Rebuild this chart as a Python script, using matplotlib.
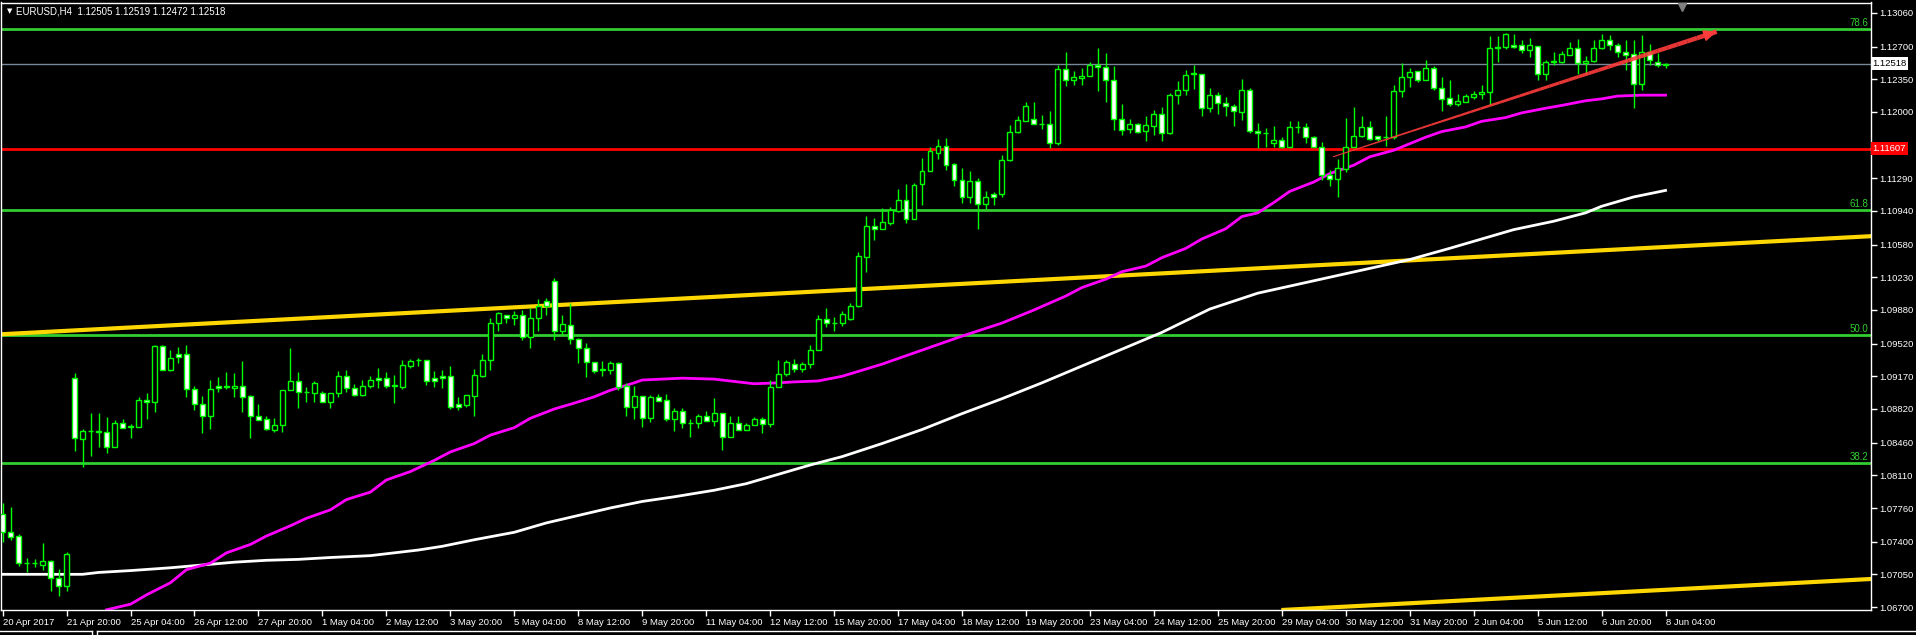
import numpy as np
import matplotlib
matplotlib.use("Agg")
import matplotlib.pyplot as plt
from matplotlib.collections import LineCollection

# EURUSD H4 candles, 20 Apr 2017 12:00 .. 8 Jun 2017 04:00
opens = [1.0770, 1.0750, 1.0746, 1.0717, 1.0717, 1.0715, 1.0719, 1.0701, 1.0692, 1.0915,
         1.0850, 1.0858, 1.0857, 1.0857, 1.0841, 1.0867, 1.0863, 1.0863, 1.0892, 1.0889,
         1.0949, 1.0924, 1.0941, 1.0941, 1.0903, 1.0887, 1.0875, 1.0907, 1.0906, 1.0905,
         1.0907, 1.0896, 1.0875, 1.0871, 1.0860, 1.0865, 1.0902, 1.0912, 1.0900, 1.0899,
         1.0899, 1.0890, 1.0899, 1.0917, 1.0904, 1.0897, 1.0907, 1.0915, 1.0915, 1.0907,
         1.0906, 1.0928, 1.0934, 1.0934, 1.0915, 1.0917, 1.0917, 1.0887, 1.0886, 1.0896,
         1.0917, 1.0934, 1.0974, 1.0983, 1.0979, 1.0983, 1.0959, 1.0979, 1.0998, 1.1019,
         1.0966, 1.0972, 1.0957, 1.0947, 1.0932, 1.0924, 1.0924, 1.0931, 1.0907, 1.0884,
         1.0896, 1.0872, 1.0895, 1.0892, 1.0871, 1.0880, 1.0867, 1.0867, 1.0875, 1.0869,
         1.0878, 1.0852, 1.0867, 1.0860, 1.0865, 1.0871, 1.0866, 1.0906, 1.0919, 1.0930,
         1.0925, 1.0930, 1.0945, 1.0978, 1.0974, 1.0974, 1.0978, 1.0992, 1.1045, 1.1078,
         1.1075, 1.1081, 1.1094, 1.1106, 1.1085, 1.1123, 1.1137, 1.1156, 1.1164, 1.1144,
         1.1127, 1.1109, 1.1126, 1.1101, 1.1112, 1.1112, 1.1149, 1.1179, 1.1190, 1.1192,
         1.1187, 1.1187, 1.1167, 1.1246, 1.1234, 1.1236, 1.1239, 1.1250, 1.1248, 1.1234,
         1.1192, 1.1182, 1.1187, 1.1180, 1.1185, 1.1198, 1.1177, 1.1218, 1.1223, 1.1241,
         1.1241, 1.1204, 1.1218, 1.1210, 1.1206, 1.1200, 1.1224, 1.1180, 1.1177, 1.1167,
         1.1170, 1.1163, 1.1184, 1.1184, 1.1173, 1.1162, 1.1133, 1.1128, 1.1139, 1.1162,
         1.1174, 1.1184, 1.1174, 1.1173, 1.1173, 1.1222, 1.1237, 1.1244, 1.1234, 1.1247,
         1.1226, 1.1215, 1.1209, 1.1211, 1.1216, 1.1219, 1.1221, 1.1269, 1.1270, 1.1272,
         1.1272, 1.1266, 1.1271, 1.1241, 1.1254, 1.1254, 1.1261, 1.1269, 1.1252, 1.1255,
         1.1269, 1.1277, 1.1272, 1.1264, 1.1262, 1.1230, 1.1264, 1.1254, 1.12505]
highs = [1.0781, 1.0777, 1.0748, 1.0722, 1.0721, 1.0739, 1.0720, 1.0711, 1.0729, 1.0921,
         1.0861, 1.0878, 1.0878, 1.0873, 1.0870, 1.0871, 1.0866, 1.0895, 1.0899, 1.0950,
         1.0950, 1.0945, 1.0948, 1.0950, 1.0907, 1.0896, 1.0913, 1.0916, 1.0922, 1.0921,
         1.0933, 1.0897, 1.0887, 1.0875, 1.0872, 1.0902, 1.0947, 1.0922, 1.0906, 1.0912,
         1.0901, 1.0899, 1.0923, 1.0924, 1.0909, 1.0913, 1.0917, 1.0926, 1.0922, 1.0918,
         1.0934, 1.0936, 1.0937, 1.0934, 1.0923, 1.0924, 1.0928, 1.0895, 1.0897, 1.0925,
         1.0941, 1.0979, 1.0986, 1.0983, 1.0987, 1.0988, 1.0990, 1.1000, 1.1001, 1.1022,
         1.0983, 1.0996, 1.0958, 1.0953, 1.0932, 1.0933, 1.0933, 1.0932, 1.0910, 1.0907,
         1.0896, 1.0897, 1.0898, 1.0898, 1.0883, 1.0883, 1.0871, 1.0877, 1.0880, 1.0894,
         1.0878, 1.0875, 1.0875, 1.0867, 1.0873, 1.0873, 1.0913, 1.0934, 1.0934, 1.0936,
         1.0932, 1.0950, 1.0983, 1.0990, 1.0981, 1.0987, 1.0995, 1.1050, 1.1089, 1.1087,
         1.1097, 1.1098, 1.1117, 1.1123, 1.1124, 1.1151, 1.1162, 1.1171, 1.1172, 1.1145,
         1.1140, 1.1137, 1.1129, 1.1115, 1.1114, 1.1154, 1.1186, 1.1196, 1.1211, 1.1211,
         1.1197, 1.1201, 1.1250, 1.1264, 1.1244, 1.1247, 1.1254, 1.1268, 1.1263, 1.1249,
         1.1209, 1.1192, 1.1188, 1.1196, 1.1202, 1.1205, 1.1220, 1.1233, 1.1245, 1.1250,
         1.1241, 1.1226, 1.1221, 1.1216, 1.1209, 1.1235, 1.1226, 1.1188, 1.1183, 1.1185,
         1.1173, 1.1190, 1.1190, 1.1188, 1.1174, 1.1168, 1.1138, 1.1150, 1.1194, 1.1205,
         1.1196, 1.1190, 1.1174, 1.1196, 1.1229, 1.1252, 1.1247, 1.1244, 1.1256, 1.1249,
         1.1237, 1.1234, 1.1219, 1.1219, 1.1222, 1.1229, 1.1281, 1.1281, 1.1285, 1.1284,
         1.1277, 1.1279, 1.1271, 1.1256, 1.1264, 1.1265, 1.1275, 1.1278, 1.1260, 1.1277,
         1.1284, 1.1282, 1.1274, 1.1277, 1.1277, 1.1282, 1.1273, 1.1263, 1.12519]
lows = [1.0740, 1.0742, 1.0714, 1.0707, 1.0713, 1.0710, 1.0687, 1.0682, 1.0687, 1.0837,
        1.0820, 1.0832, 1.0841, 1.0835, 1.0841, 1.0862, 1.0851, 1.0863, 1.0871, 1.0879,
        1.0924, 1.0923, 1.0931, 1.0895, 1.0881, 1.0856, 1.0861, 1.0900, 1.0903, 1.0895,
        1.0879, 1.0851, 1.0870, 1.0860, 1.0857, 1.0857, 1.0902, 1.0883, 1.0889, 1.0889,
        1.0889, 1.0883, 1.0895, 1.0900, 1.0896, 1.0896, 1.0905, 1.0905, 1.0904, 1.0888,
        1.0903, 1.0926, 1.0928, 1.0908, 1.0906, 1.0904, 1.0882, 1.0881, 1.0884, 1.0875,
        1.0916, 1.0924, 1.0966, 1.0974, 1.0972, 1.0956, 1.0947, 1.0965, 1.0983, 1.0956,
        1.0961, 1.0952, 1.0931, 1.0916, 1.0921, 1.0917, 1.0920, 1.0902, 1.0874, 1.0871,
        1.0863, 1.0868, 1.0891, 1.0869, 1.0858, 1.0862, 1.0852, 1.0862, 1.0869, 1.0864,
        1.0838, 1.0852, 1.0859, 1.0859, 1.0865, 1.0856, 1.0863, 1.0906, 1.0917, 1.0922,
        1.0922, 1.0926, 1.0945, 1.0970, 1.0966, 1.0971, 1.0977, 1.0991, 1.1029, 1.1063,
        1.1075, 1.1079, 1.1093, 1.1081, 1.1085, 1.1100, 1.1137, 1.1150, 1.1138, 1.1121,
        1.1103, 1.1103, 1.1075, 1.1096, 1.1100, 1.1109, 1.1147, 1.1178, 1.1190, 1.1187,
        1.1182, 1.1161, 1.1165, 1.1228, 1.1229, 1.1229, 1.1239, 1.1222, 1.1211, 1.1181,
        1.1175, 1.1177, 1.1178, 1.1169, 1.1175, 1.1169, 1.1176, 1.1209, 1.1218, 1.1225,
        1.1196, 1.1200, 1.1198, 1.1196, 1.1185, 1.1191, 1.1178, 1.1161, 1.1162, 1.1162,
        1.1161, 1.1163, 1.1177, 1.1167, 1.1162, 1.1127, 1.1121, 1.1109, 1.1136, 1.1162,
        1.1173, 1.1170, 1.1169, 1.1164, 1.1171, 1.1216, 1.1227, 1.1232, 1.1234, 1.1223,
        1.1201, 1.1206, 1.1206, 1.1211, 1.1214, 1.1214, 1.1207, 1.1254, 1.1267, 1.1269,
        1.1263, 1.1259, 1.1234, 1.1234, 1.1250, 1.1252, 1.1261, 1.1241, 1.1241, 1.1254,
        1.1267, 1.1266, 1.1259, 1.1245, 1.1204, 1.1223, 1.1250, 1.1248, 1.12472]
closes = [1.0750, 1.0745, 1.0717, 1.0717, 1.0717, 1.0719, 1.0701, 1.0692, 1.0727, 1.0851,
          1.0858, 1.0858, 1.0858, 1.0841, 1.0867, 1.0862, 1.0863, 1.0892, 1.0889, 1.0949,
          1.0924, 1.0937, 1.0938, 1.0903, 1.0887, 1.0875, 1.0903, 1.0904, 1.0906, 1.0907,
          1.0895, 1.0875, 1.0870, 1.0861, 1.0865, 1.0902, 1.0912, 1.0900, 1.0900, 1.0910,
          1.0890, 1.0899, 1.0917, 1.0904, 1.0897, 1.0907, 1.0913, 1.0913, 1.0907, 1.0907,
          1.0929, 1.0933, 1.0934, 1.0912, 1.0912, 1.0915, 1.0884, 1.0884, 1.0897, 1.0918,
          1.0934, 1.0974, 1.0985, 1.0979, 1.0983, 1.0959, 1.0979, 1.0992, 1.0992, 1.0966,
          1.0973, 1.0957, 1.0947, 1.0932, 1.0923, 1.0924, 1.0931, 1.0906, 1.0884, 1.0896,
          1.0872, 1.0895, 1.0891, 1.0871, 1.0880, 1.0867, 1.0867, 1.0875, 1.0869, 1.0878,
          1.0852, 1.0867, 1.0860, 1.0865, 1.0871, 1.0866, 1.0906, 1.0919, 1.0932, 1.0925,
          1.0930, 1.0945, 1.0978, 1.0974, 1.0974, 1.0984, 1.0992, 1.1046, 1.1078, 1.1075,
          1.1082, 1.1095, 1.1106, 1.1085, 1.1122, 1.1137, 1.1158, 1.1164, 1.1143, 1.1127,
          1.1109, 1.1126, 1.1101, 1.1109, 1.1109, 1.1149, 1.1179, 1.1191, 1.1206, 1.1187,
          1.1187, 1.1167, 1.1246, 1.1234, 1.1237, 1.1239, 1.1250, 1.1248, 1.1234, 1.1192,
          1.1181, 1.1187, 1.1179, 1.1186, 1.1198, 1.1177, 1.1218, 1.1223, 1.1240, 1.1241,
          1.1204, 1.1218, 1.1210, 1.1206, 1.1201, 1.1224, 1.1180, 1.1177, 1.1177, 1.1170,
          1.1162, 1.1184, 1.1184, 1.1173, 1.1162, 1.1133, 1.1128, 1.1140, 1.1162, 1.1174,
          1.1184, 1.1171, 1.1171, 1.1173, 1.1222, 1.1237, 1.1243, 1.1234, 1.1247, 1.1226,
          1.1214, 1.1209, 1.1212, 1.1217, 1.1219, 1.1221, 1.1269, 1.1269, 1.1283, 1.1270,
          1.1266, 1.1272, 1.1241, 1.1253, 1.1254, 1.1262, 1.1269, 1.1252, 1.1255, 1.1269,
          1.1277, 1.1272, 1.1264, 1.1261, 1.1230, 1.1264, 1.1256, 1.1250, 1.12518]

# moving averages, sampled at bar indices
ma_fast_bar = [13, 16, 18, 21, 23, 26, 28, 31, 33, 36, 38, 41, 43, 46, 48, 51, 54, 56, 59, 61,
               64, 66, 69, 71, 74, 76, 79, 80, 85, 89, 91, 94, 97, 99, 102, 105, 110, 115, 120,
               125, 129, 133, 135, 138, 140, 143, 145, 148, 150, 153, 155, 157, 159, 161, 164,
               166, 169, 171, 174, 176, 178, 180, 183, 185, 188, 190, 193, 195, 198, 200, 202,
               205, 208]
ma_fast = [1.0667, 1.0673, 1.0683, 1.0696, 1.0710, 1.0717, 1.0728, 1.0737, 1.0746, 1.0757,
           1.0765, 1.0774, 1.0785, 1.0793, 1.0806, 1.0815, 1.0827, 1.0836, 1.0845, 1.0854,
           1.0862, 1.0872, 1.0882, 1.0887, 1.0895, 1.0902, 1.0910, 1.0913, 1.0915, 1.0914,
           1.0912, 1.0909, 1.0910, 1.0911, 1.0912, 1.0917, 1.0930, 1.0945, 1.0960, 1.0974,
           1.0988, 1.1003, 1.1012, 1.1021, 1.1029, 1.1035, 1.1044, 1.1054, 1.1064, 1.1075,
           1.1088, 1.1092, 1.1103, 1.1115, 1.1125, 1.1134, 1.1143, 1.1152, 1.1159, 1.1166,
           1.1173, 1.1179, 1.1184, 1.1190, 1.1194, 1.1199, 1.1204, 1.1207, 1.1212, 1.1214,
           1.1217, 1.1218, 1.1218]
ma_slow_bar = [0, 4, 10, 12, 16, 21, 25, 29, 33, 37, 41, 46, 50, 52, 55, 59, 64, 68, 72, 76,
               80, 84, 89, 93, 97, 101, 105, 110, 115, 120, 125, 130, 135, 140, 145, 151, 157,
               176, 181, 185, 189, 194, 198, 200, 202, 204, 208]
ma_slow = [1.0705, 1.0705, 1.0705, 1.0707, 1.0709, 1.0712, 1.0715, 1.0718, 1.0720, 1.0721,
           1.0723, 1.0725, 1.0729, 1.0731, 1.0735, 1.0742, 1.0750, 1.0760, 1.0768, 1.0776,
           1.0783, 1.0788, 1.0795, 1.0802, 1.0812, 1.0822, 1.0831, 1.0845, 1.0860, 1.0877,
           1.0893, 1.0910, 1.0928, 1.0946, 1.0964, 1.0989, 1.1006, 1.1042, 1.1054, 1.1064,
           1.1074, 1.1083, 1.1092, 1.1099, 1.1104, 1.1109, 1.1116]

# drawn objects
fib_levels = [1.0824, 1.0961, 1.1095, 1.1289]
fib_names = ["38.2", "50.0", "61.8", "78.6"]
support_level = 1.11607
last_price = 1.12518
channel_upper_x = [-0.2, 233.7]
channel_upper_y = [1.0962, 1.1067]
channel_lower_x = [160.2, 233.7]
channel_lower_y = [1.06669, 1.0700]
arrow_x = [166.4, 214.4]
arrow_y = [1.1152, 1.1286]

price_ticks = [1.06700, 1.07050, 1.07400, 1.07760, 1.08110, 1.08460, 1.08820, 1.09170,
               1.09520, 1.09880, 1.10230, 1.10580, 1.10940, 1.11290, 1.12000, 1.12350,
               1.12700, 1.13060]
time_labels = ["20 Apr 2017", "21 Apr 20:00", "25 Apr 04:00", "26 Apr 12:00", "27 Apr 20:00",
               "1 May 04:00", "2 May 12:00", "3 May 20:00", "5 May 04:00", "8 May 12:00",
               "9 May 20:00", "11 May 04:00", "12 May 12:00", "15 May 20:00", "17 May 04:00",
               "18 May 12:00", "19 May 20:00", "23 May 04:00", "24 May 12:00", "25 May 20:00",
               "29 May 04:00", "30 May 12:00", "31 May 20:00", "2 Jun 04:00", "5 Jun 12:00",
               "6 Jun 20:00", "8 Jun 04:00"]

FONT = "Liberation Sans"
GREEN = "#00ff00"
FIB = "#32cd32"

fig = plt.figure(figsize=(19.16, 6.35), dpi=100, facecolor="black")
ax = fig.add_axes([1 / 1916, 25 / 635, 1870 / 1916, 607.5 / 635])
ax.set_facecolor("black")

o = np.array(opens)
h = np.array(highs)
l = np.array(lows)
c = np.array(closes)
x = np.arange(len(o))

# levels and trend lines
for lvl, name in zip(fib_levels, fib_names):
    ax.axhline(lvl, color=FIB, lw=2, zorder=1)
    ax.text(233.4, lvl + 0.00008, name, color=FIB, fontsize=7, family=FONT,
            ha="right", va="bottom", zorder=6)
ax.axhline(support_level, color="#ff0000", lw=2, zorder=1)
ax.axhline(last_price, color="#778899", lw=1, zorder=1)
ax.plot(channel_upper_x, channel_upper_y, color="#ffd700", lw=3, zorder=2)
ax.plot(channel_lower_x, channel_lower_y, color="#ffd700", lw=3, zorder=2)

# moving averages
ax.plot(ma_slow_bar, ma_slow, color="white", lw=2, zorder=2)
ax.plot(ma_fast_bar, ma_fast, color="#ff00ff", lw=2, zorder=2)

# candles
up = c >= o
bottom = np.minimum(o, c)
height = np.maximum(np.abs(c - o), 0.00004)
ax.vlines(x, l, h, color=GREEN, lw=1, zorder=3)
ax.bar(x[up], height[up], bottom=bottom[up], width=0.62, color="black",
       edgecolor=GREEN, lw=1, zorder=4)
ax.bar(x[~up], height[~up], bottom=bottom[~up], width=0.62, color="white",
       edgecolor=GREEN, lw=1, zorder=4)

# red arrow: line that widens toward the head
t = np.linspace(0, 1, 40)
ax_pts = arrow_x[0] + t * (arrow_x[1] - arrow_x[0])
ay_pts = arrow_y[0] + t * (arrow_y[1] - arrow_y[0])
segs = np.stack([np.column_stack([ax_pts[:-1], ay_pts[:-1]]),
                 np.column_stack([ax_pts[1:], ay_pts[1:]])], axis=1)
ax.add_collection(LineCollection(segs, colors="#ff3c3c", alpha=0.9,
                                 linewidths=np.linspace(0.8, 3.4, len(segs)),
                                 capstyle="butt", zorder=5))
ax.annotate("", xy=(arrow_x[1], arrow_y[1]),
            xytext=(arrow_x[1] - 1.5, arrow_y[1] - 1.5 * (arrow_y[1] - arrow_y[0]) / (arrow_x[1] - arrow_x[0])),
            arrowprops=dict(arrowstyle="-|>,head_length=0.8,head_width=0.35",
                            color="#ff3c3c", mutation_scale=10, lw=1,
                            shrinkA=0, shrinkB=0), zorder=5)

ax.set_xlim(-0.2, 233.7)
ax.set_ylim(1.06668, 1.13172)

# axes look
for s in ax.spines.values():
    s.set_color("white")
    s.set_linewidth(1)
ax.yaxis.tick_right()
ax.set_yticks(price_ticks)
ax.set_yticklabels([f"{p:.5f}" for p in price_ticks])
ax.set_xticks(np.arange(0, 8 * len(time_labels), 8))
ax.set_xticklabels(time_labels)
ax.tick_params(colors="white", labelsize=6.8, length=4, width=1, pad=2)
for lab in ax.get_xticklabels() + ax.get_yticklabels():
    lab.set_family(FONT)
for lab in ax.get_xticklabels():
    lab.set_ha("left")

# price tags on the axis
ax.text(1.0008, last_price, "1.12518", transform=ax.get_yaxis_transform(), ha="left",
        va="center", fontsize=6.8, family=FONT, color="black",
        bbox=dict(boxstyle="square,pad=0.18", fc="white", ec="none"), clip_on=False)
ax.text(1.0008, support_level, "1.11607", transform=ax.get_yaxis_transform(), ha="left",
        va="center", fontsize=6.8, family=FONT, color="white",
        bbox=dict(boxstyle="square,pad=0.18", fc="#ff0000", ec="none"), clip_on=False)

# chart header and shift marker
fig.text(7 / 1916, 1 - 11 / 635, "\u25bc", color="white", fontsize=5, va="center",
         family="DejaVu Sans")
fig.text(16 / 1916, 1 - 11 / 635, "EURUSD,H4  1.12505 1.12519 1.12472 1.12518",
         color="white", fontsize=7, va="center", family=FONT)
ax.plot([0.899], [0.992], marker="v", color="#808080", ms=6, transform=ax.transAxes,
        clip_on=False, zorder=7)

# tab strip under the chart
strip_y = 1 - 631 / 635
fig.add_artist(plt.Line2D([0, 92 / 1916], [strip_y] * 2, color="white", lw=1))
fig.add_artist(plt.Line2D([92 / 1916] * 2, [0, strip_y], color="white", lw=1))
fig.add_artist(plt.Line2D([97 / 1916, 1], [strip_y] * 2, color="white", lw=1))
fig.add_artist(plt.Line2D([97 / 1916] * 2, [0, strip_y], color="white", lw=1))

fig.savefig("out.png", dpi=100, facecolor="black")
